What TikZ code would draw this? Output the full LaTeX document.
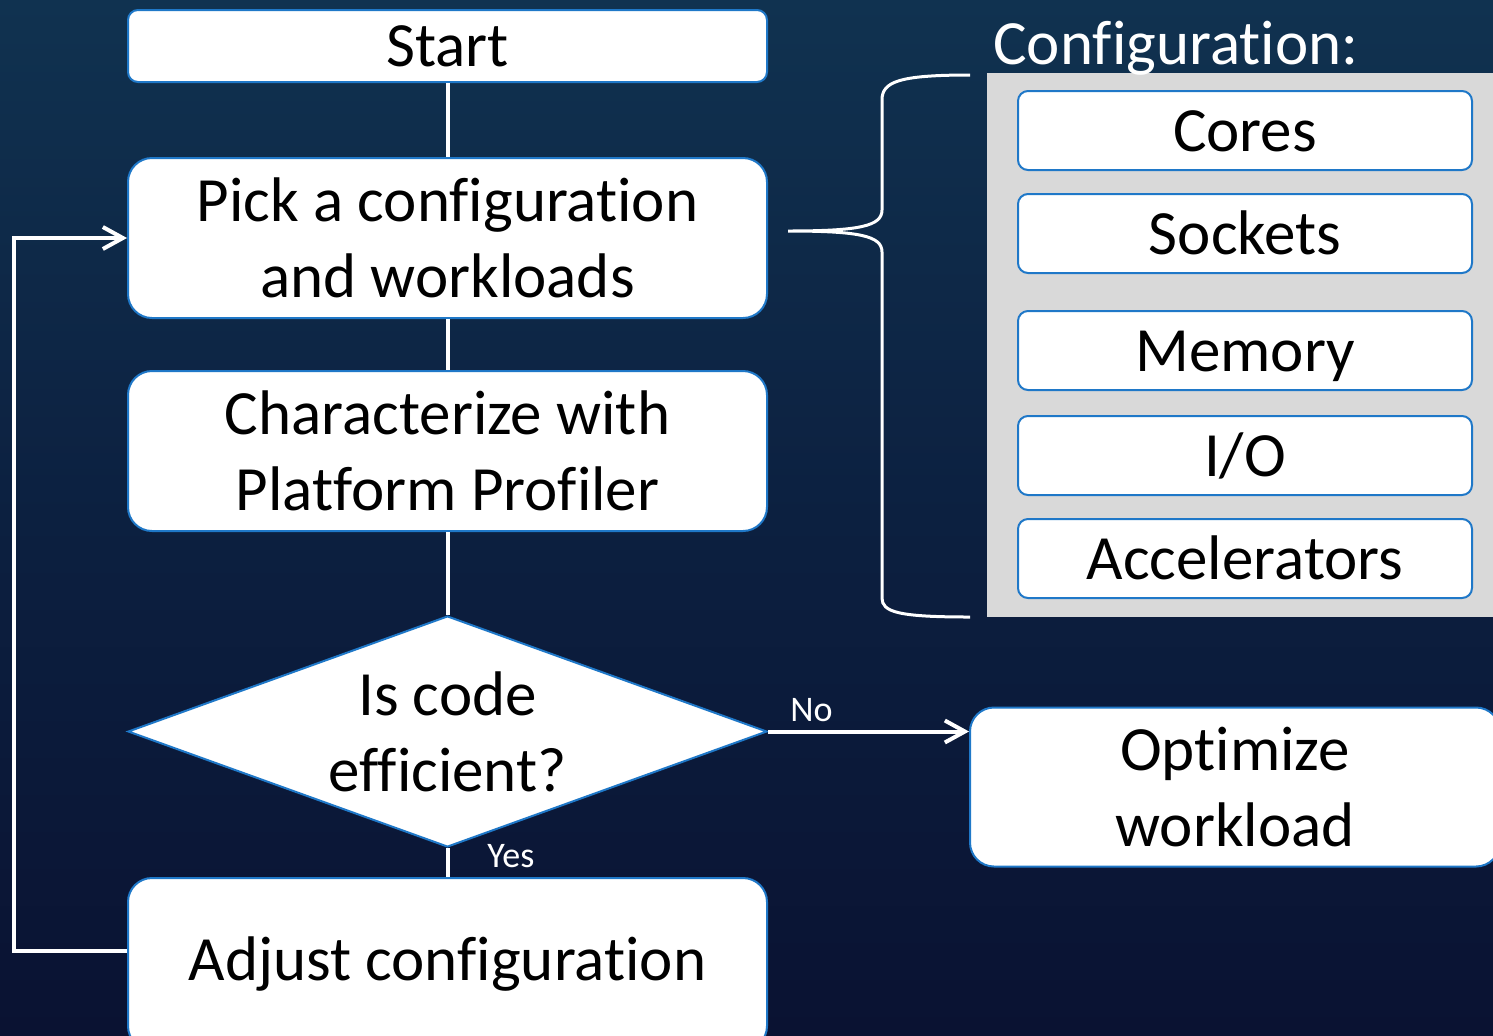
\documentclass[tikz,border=0pt]{standalone}
\usepackage{fontspec}
\setmainfont{Carlito}[RawFeature={-liga;-clig;-dlig}]
\usetikzlibrary{arrows.meta,shapes.geometric}
\definecolor{bblue}{HTML}{1F78C8}
\definecolor{panel}{HTML}{D9D9D9}
\definecolor{bgtop}{HTML}{103250}
\definecolor{bgmid}{HTML}{0C2040}
\definecolor{bgbot}{HTML}{0A1232}
\newcommand\bigf{\fontsize{31.5}{38}\selectfont}
\newcommand\smallf{\fontsize{18}{22}\selectfont}
\tikzset{
  box/.style={draw=bblue, line width=1pt, fill=white, rounded corners=12pt,
    minimum width=319.5pt, align=center, inner sep=0pt, font=\bigf, text=black},
  cfgbox/.style={draw=bblue, line width=1pt, fill=white, rounded corners=5pt,
    minimum width=227pt, minimum height=39.5pt, inner sep=0pt, font=\bigf, text=black,
    text height=25pt, text depth=4pt},
  conn/.style={draw=white, line width=2pt},
  arr/.style={conn, -{Straight Barb[length=10pt,width=11pt,line width=2pt]}},
  lbl/.style={text=white, font=\smallf, inner sep=0pt},
  bracepath/.style={draw=white, line width=1.5pt}
}
\begin{document}
\begin{tikzpicture}[x=0.5pt,y=-0.5pt]
\useasboundingbox (0,0) rectangle (1493,1035);
\shade[top color=bgtop, bottom color=bgbot, middle color=bgmid] (0,0) rectangle (1493,1035);

% gray panel
\fill[panel] (987,73) rectangle (1500,617);
\node[anchor=base west, text=white, font=\bigf, inner sep=0pt] (cfgtitle) at (993,64) {Configuration:};

% configuration boxes
\node[cfgbox] (cores) at (1245,130.5) {Cores};
\node[cfgbox] (sockets) at (1245,233.5) {Sockets};
\node[cfgbox] (memory) at (1245,350.5) {Memory};
\node[cfgbox] (io) at (1245,455.5) {I/O};
\node[cfgbox] (accel) at (1245,558.5) {Accelerators};

% flow boxes
\node[box, rounded corners=5pt, minimum height=36pt] (start) at (447.5,46) {Start};
\node[box, minimum height=80pt] (pick) at (447.5,238) {Pick a configuration\\and workloads};
\node[box, minimum height=80pt] (char) at (447.5,451) {Characterize with\\Platform Profiler};
\node[draw=bblue, line width=1pt, fill=white, diamond, minimum width=319.5pt,
      minimum height=115.5pt, inner sep=0pt] (dec) at (447.5,731.5) {};
\node[align=center, font=\bigf, text=black, inner sep=0pt] (dectext) at (dec.center) {Is code\\efficient?};
\node[box, minimum height=86pt] (adjust) at (447.5,964) {Adjust configuration};
\node[box, minimum width=265pt, minimum height=79.5pt] (opt) at (1235,787) {Optimize\\workload};

% connectors
\draw[conn] (start) -- (pick);
\draw[conn] (pick) -- (char);
\draw[conn] (char) -- (dec.north);
\draw[conn] (dec.south) -- (adjust);
\draw[arr] (dec.east) -- (dec.east -| opt.west);
\coordinate (loopstart) at ([yshift=6.5pt]adjust.west);
\draw[arr] (loopstart) -- (14,951) |- (pick.west);

% labels
\node[lbl, anchor=base west] (nolbl) at (790,721) {No};
\node[lbl, anchor=base west] (yeslbl) at (487,867) {Yes};

% brace
\draw[bracepath] (970,75) .. controls (898,75) and (882,82) .. (882,100)
  -- (882,210) .. controls (882,226) and (860,231) .. (788,231)
  .. controls (860,231) and (882,236) .. (882,252)
  -- (882,598) .. controls (882,612) and (898,617) .. (970,617);
\end{tikzpicture}
\end{document}
